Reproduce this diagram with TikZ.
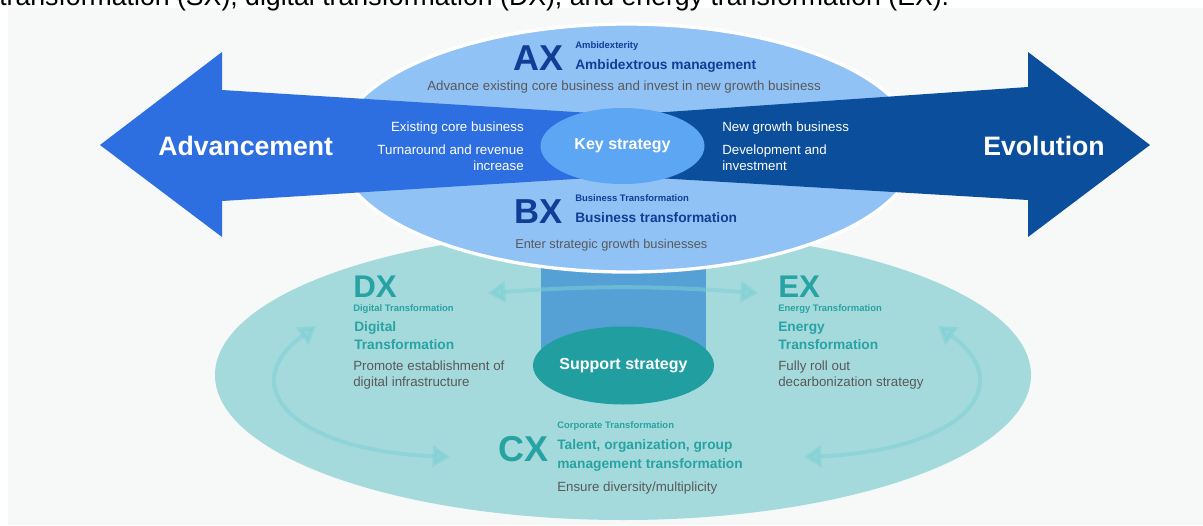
\documentclass[tikz,border=0pt]{standalone}
\usepackage{fontspec}
\setmainfont{Liberation Sans}
\usetikzlibrary{arrows.meta,shapes.geometric}

\definecolor{panelgray}{HTML}{F7F8F8}
\definecolor{ovalblue}{HTML}{90C2F6}
\definecolor{keyblue}{HTML}{5CA6F4}
\definecolor{leftblue}{HTML}{2D6EE0}
\definecolor{rightblue}{HTML}{0A4E9C}
\definecolor{ovalteal}{HTML}{A5DADC}
\definecolor{cylblue}{HTML}{55A0D5}
\definecolor{supteal}{HTML}{219E9F}
\definecolor{flowcol}{HTML}{7DD0D6}
\definecolor{textblue}{HTML}{123D96}
\definecolor{textteal}{HTML}{28A3A3}
\definecolor{textgray}{HTML}{595959}

\begin{document}
\begin{tikzpicture}[x=0.75pt,y=-0.75pt,
		txt/.style={inner sep=0pt, anchor=base west},
		tag/.style={txt, font=\fontsize{27}{27}\selectfont\bfseries},
		small/.style={txt, font=\fontsize{7.1}{8}\selectfont\bfseries},
		title/.style={txt, font=\fontsize{10.3}{12}\selectfont\bfseries},
		body/.style={txt, text=textgray, font=\fontsize{10}{12}\selectfont},
		side/.style={inner sep=0pt, text=white, font=\fontsize{10}{12}\selectfont},
		big/.style={txt, text=white, font=\fontsize{20}{24}\selectfont\bfseries},
		oval/.style={ellipse, inner sep=0pt, text=white, font=\fontsize{12}{14}\selectfont\bfseries},
		flow/.style={line width=3pt, draw=flowcol, opacity=0.55, {Triangle[length=13pt,width=16pt]}-{Triangle[length=13pt,width=16pt]}}]
		\useasboundingbox (0,0) rectangle (1203,525);
		\clip (0,0) rectangle (1203,525);
		\fill[white] (0,0) rectangle (1203,525);
		\fill[panelgray] (8,8) rectangle (1203,525);
		\node (intro) [txt, font=\fontsize{20}{20}\selectfont] at (-1,5) {transformation (SX), digital transformation (DX), and energy transformation (EX).};
		
		\fill[ovalteal] (623,375) ellipse [x radius=408, y radius=145];
		\fill[cylblue] (541,250) rectangle (706,365);
		\node (support) [oval, fill=supteal, minimum width=124pt, minimum height=58.5pt] at (623.5,365.5) {Support strategy};
		
		\coordinate (dxtip) at (488,293);
		\coordinate (extip) at (758,293);
		\draw[flow] (dxtip) to[bend left=4] (extip);
		\coordinate (ltop) at (316,326);
		\coordinate (lbot) at (450,457);
		\draw[flow] (ltop) .. controls (235,385) and (290,450) .. (lbot);
		\coordinate (rtop) at (938,326);
		\coordinate (rbot) at (804,457);
		\draw[flow] (rtop) .. controls (1019,385) and (964,450) .. (rbot);
		
		\filldraw[fill=ovalblue, draw=white, line width=2.5pt] (627,148) ellipse [x radius=290, y radius=124];
		\fill[leftblue] (100,145) -- (222,52) -- (222,90) -- (623,115) -- (623,176) -- (222,201) -- (222,237) -- cycle;
		\fill[rightblue] (1150,145) -- (1028,52) -- (1028,87) -- (623,115) -- (623,176) -- (1028,200) -- (1028,237) -- cycle;
		\node (key) [oval, fill=keyblue, minimum width=123pt, minimum height=57pt] at (622.5,146) {Key strategy};
		
		\node (adv) [big] at (158,155) {Advancement};
		\node (evo) [big] at (983,155) {Evolution};
		\node (core) [side, anchor=base east] at (524,131.5) {Existing core business};
		\node (turn1) [side, anchor=base east] at (524,154.5) {Turnaround and revenue};
		\node (turn2) [side, anchor=base east] at (524,170.5) {increase};
		\node (grow) [side, anchor=base west] at (722,131.5) {New growth business};
		\node (dev1) [side, anchor=base west] at (722,154.5) {Development and};
		\node (dev2) [side, anchor=base west] at (722,170.5) {investment};
		
		\node (ax) [tag, text=textblue] at (513,70) {AX};
		\node (axsub) [small, text=textblue] at (575,48) {Ambidexterity};
		\node (axname) [title, text=textblue] at (575,69.5) {Ambidextrous management};
		\node (axtext) [body] at (427,90.5) {Advance existing core business and invest in new growth business};
		
		\node (bx) [tag, text=textblue, font=\fontsize{26}{26}\selectfont\bfseries] at (514,223) {BX};
		\node (bxsub) [small, text=textblue] at (575,201.5) {Business Transformation};
		\node (bxname) [title, text=textblue] at (575,222) {Business transformation};
		\node (bxtext) [body, font=\fontsize{9.6}{12}\selectfont] at (515,248) {Enter strategic growth businesses};
		
		\node (dx) [tag, text=textteal, font=\fontsize{23.5}{24}\selectfont\bfseries] at (353,297) {DX};
		\node (dxsub) [small, text=textteal] at (353,311) {Digital Transformation};
		\node (dxname1) [title, text=textteal] at (354,331.7) {Digital};
		\node (dxname2) [title, text=textteal] at (354,349.3) {Transformation};
		\node (dxtext1) [body] at (353,370) {Promote establishment of};
		\node (dxtext2) [body] at (353,386) {digital infrastructure};
		
		\node (ex) [tag, text=textteal, font=\fontsize{23.5}{24}\selectfont\bfseries] at (778,297) {EX};
		\node (exsub) [small, text=textteal] at (778,311) {Energy Transformation};
		\node (exname1) [title, text=textteal] at (778,331.7) {Energy};
		\node (exname2) [title, text=textteal] at (778,349.3) {Transformation};
		\node (extext1) [body] at (778,370) {Fully roll out};
		\node (extext2) [body] at (778,386) {decarbonization strategy};
		
		\node (cx) [tag, text=textteal] at (498,461.7) {CX};
		\node (cxsub) [small, text=textteal] at (557,428.3) {Corporate Transformation};
		\node (cxname1) [title, text=textteal] at (557,449.3) {Talent, organization, group};
		\node (cxname2) [title, text=textteal] at (557,468.3) {management transformation};
		\node (cxtext) [body] at (557,491.7) {Ensure diversity/multiplicity};
		\end{tikzpicture}
\end{document}
